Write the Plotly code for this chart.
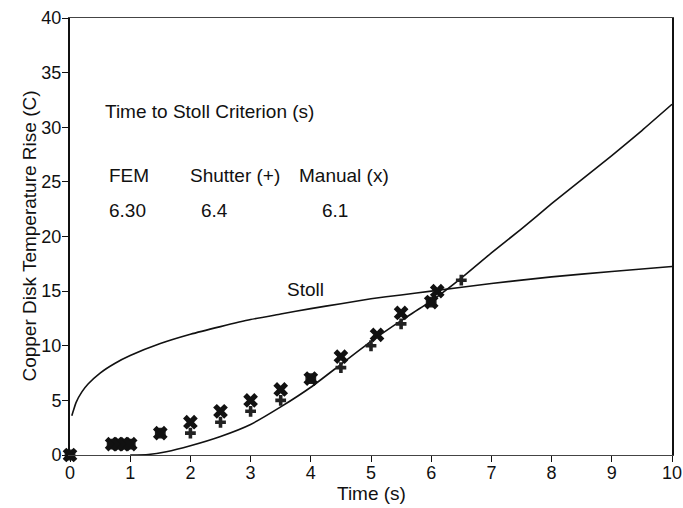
import plotly.graph_objects as go

# Stoll criterion curve (time s, temperature rise C)
stoll_t = [0.03, 0.05, 0.1, 0.2, 0.3, 0.5, 0.75, 1.0, 1.5, 2.0, 2.5, 3.0, 3.5, 4.0,
           4.5, 5.0, 5.5, 6.0, 7.0, 8.0, 9.0, 10.0]
stoll_v = [3.6, 3.95, 4.8, 5.8, 6.5, 7.5, 8.4, 9.1, 10.2, 11.05, 11.75, 12.4, 12.9, 13.4,
           13.85, 14.3, 14.65, 15.0, 15.7, 16.3, 16.8, 17.25]

# FEM prediction curve
fem_t = [1.0, 1.3, 1.6, 2.0, 2.5, 3.0, 3.5, 4.0, 4.5, 5.0, 5.5, 6.0, 6.5, 7.0,
         7.5, 8.0, 8.5, 9.0, 9.5, 10.0]
fem_v = [0.0, 0.05, 0.3, 0.85, 1.7, 2.8, 4.4, 6.2, 8.3, 10.4, 12.3, 14.1, 16.2, 18.5,
         20.7, 23.0, 25.2, 27.4, 29.7, 32.1]

# Shutter (+) measurements
shutter_t = [0, 0.7, 0.8, 0.9, 1.0, 1.5, 2.0, 2.5, 3.0, 3.5, 4.0, 4.5, 5.0, 5.5, 6.0, 6.5]
shutter_v = [0, 1, 1, 1, 1, 2, 2, 3, 4, 5, 7, 8, 10, 12, 14, 16]

# Manual (x) measurements
manual_t = [0, 0.7, 0.8, 0.9, 1.0, 1.5, 2.0, 2.5, 3.0, 3.5, 4.0, 4.5, 5.1, 5.5, 6.0, 6.1]
manual_v = [0, 1, 1, 1, 1, 2, 3, 4, 5, 6, 7, 9, 11, 13, 14, 15]

x_ticks = list(range(0, 11))
y_ticks = list(range(0, 41, 5))

FONT = "Liberation Sans, Arial, Helvetica, sans-serif"
INK = "#111111"

fig = go.Figure()
fig.add_trace(go.Scatter(x=stoll_t, y=stoll_v, mode="lines",
                         line=dict(color=INK, width=1.6, shape="spline", smoothing=0.5),
                         showlegend=False))
fig.add_trace(go.Scatter(x=fem_t, y=fem_v, mode="lines",
                         line=dict(color=INK, width=1.6, shape="spline", smoothing=0.5),
                         showlegend=False))
fig.add_trace(go.Scatter(x=shutter_t, y=shutter_v, mode="markers", cliponaxis=False,
                         marker=dict(symbol="cross", size=9, color="#222222",
                                     line=dict(width=0)), showlegend=False))
fig.add_trace(go.Scatter(x=manual_t, y=manual_v, mode="markers", cliponaxis=False,
                         marker=dict(symbol="x", size=13, color=INK,
                                     line=dict(width=0)), showlegend=False))

ann_font = dict(family=FONT, size=19, color=INK)
annotations = [
    dict(x=0.55, y=31.4, text="Time to Stoll Criterion (s)"),
    dict(x=0.61, y=25.6, text="FEM"),
    dict(x=1.96, y=25.6, text="Shutter (+)"),
    dict(x=3.77, y=25.6, text="Manual (x)"),
    dict(x=0.62, y=22.4, text="6.30"),
    dict(x=2.15, y=22.4, text="6.4"),
    dict(x=4.15, y=22.4, text="6.1"),
    dict(x=3.57, y=15.15, text="Stoll"),
]
for a in annotations:
    a.update(xref="x", yref="y", xanchor="left", yanchor="middle",
             showarrow=False, font=ann_font)

annotations.append(dict(xref="paper", yref="paper", x=0.5, y=-0.087,
                        xanchor="center", yanchor="middle", showarrow=False,
                        text="Time (s)", font=ann_font))
annotations.append(dict(xref="paper", yref="paper", x=-0.068, y=0.5,
                        xanchor="center", yanchor="middle", showarrow=False,
                        textangle=-90, text="Copper Disk Temperature Rise (C)",
                        font=ann_font))

fig.update_layout(
    width=683, height=508,
    margin=dict(l=70, r=11, t=18, b=53),
    paper_bgcolor="white", plot_bgcolor="white",
    font=dict(family=FONT, size=19, color=INK),
    annotations=annotations,
    xaxis=dict(range=[0, 10], tickvals=x_ticks, ticks="outside", ticklen=6,
               tickwidth=1, tickcolor=INK, showline=True, linecolor="#444444",
               linewidth=1, mirror=True, showgrid=False, zeroline=False,
               automargin=False, ticklabelstandoff=-5, ticklabeloverflow="allow",
               tickfont=dict(family=FONT, size=18, color=INK)),
    yaxis=dict(range=[0, 40], tickvals=y_ticks, ticks="outside", ticklen=6,
               tickwidth=1, tickcolor=INK, showline=True, linecolor=INK,
               linewidth=2, mirror=True, showgrid=False, zeroline=False,
               automargin=False, ticklabelstandoff=-3, ticklabeloverflow="allow",
               tickfont=dict(family=FONT, size=18, color=INK)),
)

# remove the page's default 8 px body margin so the figure fills the window exactly
fig.write_html("out.html",
               config={"displayModeBar": False},
               post_script="document.body.style.margin='0';"
                           "document.body.style.overflow='hidden';")
